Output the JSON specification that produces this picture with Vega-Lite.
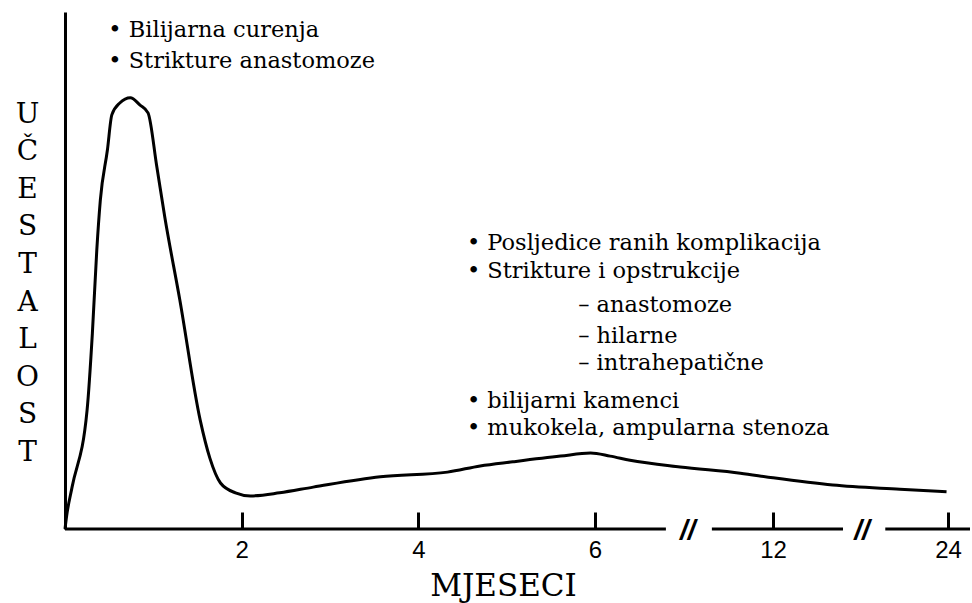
{
  "$schema": "https://vega.github.io/schema/vega-lite/v6.json",
  "width": 905,
  "height": 517,
  "autosize": {"type": "none"},
  "padding": {"left": 65, "top": 12, "right": 2, "bottom": 74},
  "background": "white",
  "config": {"view": {"stroke": null}},
  "datasets": {
    "curve": [
      {"m": 0, "v": 0}, {"m": 0.02, "v": 2.7}, {"m": 0.08, "v": 8.1}, {"m": 0.25, "v": 23.0},
      {"m": 0.31, "v": 37.9}, {"m": 0.36, "v": 54.0}, {"m": 0.40, "v": 63.6}, {"m": 0.48, "v": 73.3},
      {"m": 0.53, "v": 80.1}, {"m": 0.62, "v": 82.4}, {"m": 0.74, "v": 83.4}, {"m": 0.85, "v": 82.0},
      {"m": 0.94, "v": 80.5}, {"m": 1.04, "v": 70.0}, {"m": 1.13, "v": 60.3}, {"m": 1.30, "v": 44.3},
      {"m": 1.53, "v": 21.1}, {"m": 1.64, "v": 13.7}, {"m": 1.76, "v": 8.9}, {"m": 1.93, "v": 7.0},
      {"m": 2.10, "v": 6.4}, {"m": 2.43, "v": 7.0}, {"m": 2.81, "v": 8.1}, {"m": 3.57, "v": 10.1},
      {"m": 4.33, "v": 11.0}, {"m": 4.70, "v": 12.2}, {"m": 5.07, "v": 13.0}, {"m": 5.61, "v": 14.1},
      {"m": 5.95, "v": 14.7}, {"m": 6.51, "v": 14.1}, {"m": 7.18, "v": 13.3}, {"m": 8.87, "v": 12.0},
      {"m": 10.9, "v": 10.8}, {"m": 12.0, "v": 9.9}, {"m": 16.1, "v": 8.5}, {"m": 20.7, "v": 7.7},
      {"m": 23.9, "v": 7.2}
    ],
    "axisSegments": [
      {"m": 0, "m2": 8.39},
      {"m": 9.94, "m2": 16.8},
      {"m": 19.7, "m2": 25.5}
    ],
    "breaks": [
      {"m": 9.13, "label": "//"},
      {"m": 18.1, "label": "//"}
    ],
    "notes": [
      {"m": 0.49, "v": 95.2, "label": "•  Bilijarna curenja"},
      {"m": 0.49, "v": 89.2, "label": "•  Strikture anastomoze"},
      {"m": 4.55, "v": 54.0, "label": "• Posljedice ranih komplikacija"},
      {"m": 4.55, "v": 48.5, "label": "• Strikture i opstrukcije"},
      {"m": 5.81, "v": 42.0, "label": "–   anastomoze"},
      {"m": 5.81, "v": 36.0, "label": "–  hilarne"},
      {"m": 5.81, "v": 30.8, "label": "–  intrahepatične"},
      {"m": 4.55, "v": 23.4, "label": "• bilijarni kamenci"},
      {"m": 4.55, "v": 18.2, "label": "• mukokela, ampularna stenoza"}
    ]
  },
  "encoding": {
    "x": {
      "field": "m", "type": "quantitative",
      "scale": {"domain": [0, 6, 12, 24, 25.5], "range": [0, 530, 708, 883, 905], "nice": false, "zero": false},
      "axis": {
        "values": [2, 4, 6, 12, 24],
        "domain": false, "grid": false,
        "tickSize": -17, "tickWidth": 3, "tickColor": "black",
        "labelFont": "Liberation Sans", "labelFontSize": 24, "labelColor": "black",
        "labelPadding": 26,
        "title": "MJESECI",
        "titleFont": "DejaVu Serif", "titleFontSize": 31, "titleFontWeight": "normal",
        "titleColor": "black", "titleBaseline": "alphabetic", "titleX": 438, "titleY": 66,
        "titleAnchor": "middle", "titleAlign": "center"
      }
    }
  },
  "layer": [
    {
      "data": {"name": "curve"},
      "mark": {"type": "line", "color": "black", "strokeWidth": 3, "interpolate": "monotone"},
      "encoding": {
        "y": {
          "field": "v", "type": "quantitative",
          "scale": {"domain": [0, 100], "nice": false, "zero": true},
          "axis": {
            "domain": true, "domainWidth": 3, "domainColor": "black",
            "ticks": false, "labels": false, "grid": false,
            "title": ["U", "Č", "E", "S", "T", "A", "L", "O", "S", "T"],
            "titleAngle": 0, "titleFont": "DejaVu Serif", "titleFontSize": 28,
            "titleFontWeight": "normal", "titleColor": "black",
            "titleAlign": "center", "titleBaseline": "alphabetic",
            "titleLineHeight": 37.6, "titleX": -38, "titleY": 110
          }
        }
      }
    },
    {
      "data": {"name": "axisSegments"},
      "mark": {"type": "rule", "color": "black", "strokeWidth": 3},
      "encoding": {
        "x2": {"field": "m2"},
        "y": {"datum": 0, "type": "quantitative"}
      }
    },
    {
      "data": {"name": "breaks"},
      "mark": {"type": "text", "font": "Liberation Sans", "fontSize": 28, "fontWeight": "bold", "fontStyle": "italic", "color": "black", "baseline": "middle", "align": "center", "dy": 2},
      "encoding": {
        "y": {"datum": 0, "type": "quantitative"},
        "text": {"field": "label"}
      }
    },
    {
      "data": {"name": "notes"},
      "mark": {"type": "text", "font": "DejaVu Serif", "fontSize": 22.5, "color": "black", "baseline": "alphabetic", "align": "left"},
      "encoding": {
        "y": {"field": "v", "type": "quantitative"},
        "text": {"field": "label"}
      }
    }
  ]
}
